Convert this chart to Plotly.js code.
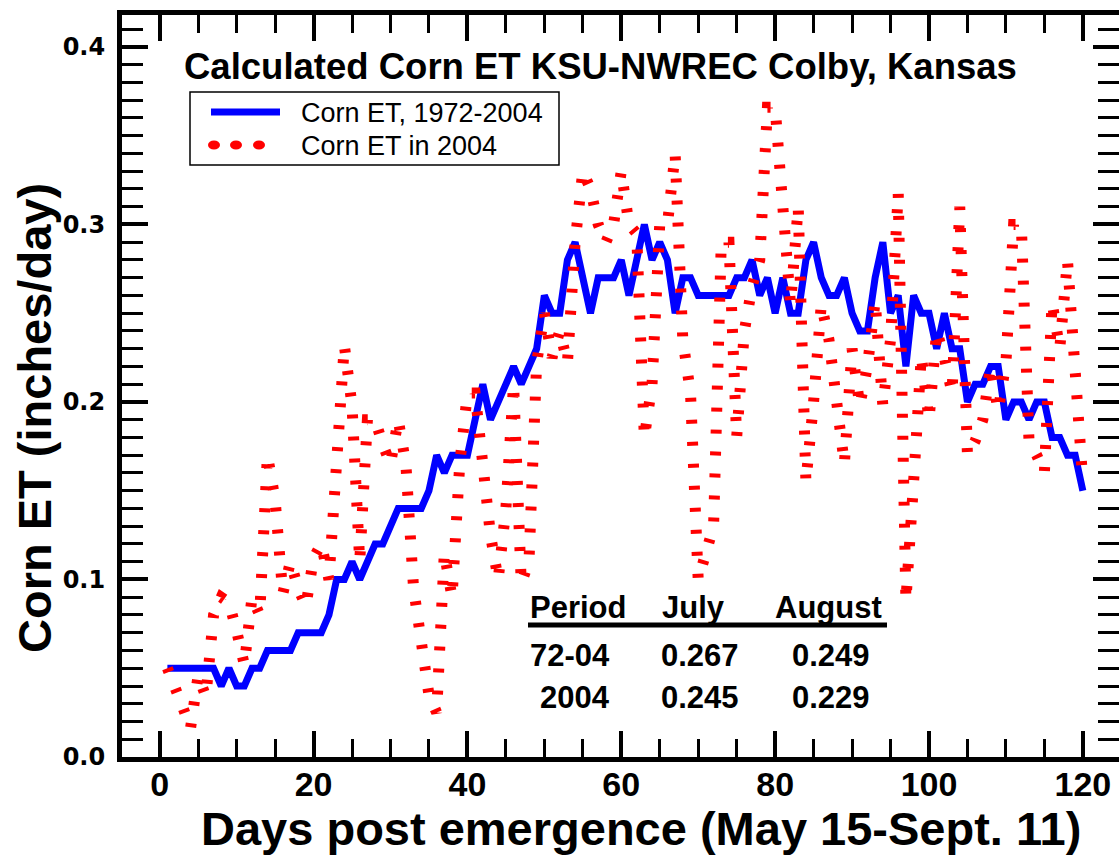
<!DOCTYPE html>
<html>
<head>
<meta charset="utf-8">
<script src="https://cdn.plot.ly/plotly-3.0.1.min.js"></script>
<style>
  html, body { margin: 0; padding: 0; background: #ffffff; }
  #chart { width: 1119px; height: 857px; }
</style>
</head>
<body>
<div id="chart"></div>
<script>
// ---- data ----
const days = Array.from({length: 120}, (_, i) => i + 1);

const etLongTerm = [
  0.05, 0.05, 0.05, 0.05, 0.05, 0.05, 0.05, 0.04, 0.05, 0.04,
  0.04, 0.05, 0.05, 0.06, 0.06, 0.06, 0.06, 0.07, 0.07, 0.07,
  0.07, 0.08, 0.10, 0.10, 0.11, 0.10, 0.11, 0.12, 0.12, 0.13,
  0.14, 0.14, 0.14, 0.14, 0.15, 0.17, 0.16, 0.17, 0.17, 0.17,
  0.19, 0.21, 0.19, 0.20, 0.21, 0.22, 0.21, 0.22, 0.23, 0.26,
  0.25, 0.25, 0.28, 0.29, 0.27, 0.25, 0.27, 0.27, 0.27, 0.28,
  0.26, 0.28, 0.30, 0.28, 0.29, 0.28, 0.25, 0.27, 0.27, 0.26,
  0.26, 0.26, 0.26, 0.26, 0.27, 0.27, 0.28, 0.26, 0.27, 0.25,
  0.27, 0.25, 0.25, 0.28, 0.29, 0.27, 0.26, 0.26, 0.27, 0.25,
  0.24, 0.24, 0.27, 0.29, 0.25, 0.26, 0.22, 0.26, 0.25, 0.25,
  0.23, 0.25, 0.23, 0.23, 0.20, 0.21, 0.21, 0.22, 0.22, 0.19,
  0.20, 0.20, 0.19, 0.20, 0.20, 0.18, 0.18, 0.17, 0.17, 0.15
];

const et2004 = [
  0.050, 0.040, 0.028, 0.016, 0.046, 0.034, 0.080, 0.090, 0.087, 0.071,
  0.052, 0.090, 0.080, 0.170, 0.145, 0.092, 0.110, 0.095, 0.085, 0.112,
  0.120, 0.100, 0.168, 0.232, 0.198, 0.110, 0.190, 0.190, 0.176, 0.165,
  0.190, 0.165, 0.095, 0.060, 0.035, 0.025, 0.115, 0.090, 0.165, 0.205,
  0.205, 0.165, 0.125, 0.100, 0.140, 0.210, 0.098, 0.110, 0.222, 0.250,
  0.225, 0.240, 0.222, 0.290, 0.330, 0.320, 0.300, 0.290, 0.300, 0.330,
  0.300, 0.295, 0.180, 0.210, 0.300, 0.300, 0.340, 0.235, 0.205, 0.100,
  0.115, 0.130, 0.290, 0.290, 0.180, 0.240, 0.265, 0.280, 0.366, 0.366,
  0.310, 0.255, 0.310, 0.155, 0.200, 0.255, 0.235, 0.200, 0.165, 0.230,
  0.198, 0.220, 0.257, 0.198, 0.235, 0.318, 0.088, 0.155, 0.226, 0.190,
  0.240, 0.225, 0.205, 0.310, 0.170, 0.178, 0.190, 0.220, 0.195, 0.222,
  0.300, 0.300, 0.178, 0.170, 0.160, 0.256, 0.230, 0.280, 0.218, 0.155
];

const seriesNames = ["Corn ET, 1972-2004", "Corn ET in 2004"];
const chartTitle = "Calculated Corn ET KSU-NWREC Colby, Kansas";
const xTitle = "Days post emergence (May 15-Sept. 11)";
const yTitle = "Corn ET (inches/day)";
const tableHeader = ["Period", "July", "August"];
const tableRows = [
  ["72-04", "0.267", "0.249"],
  ["2004", "0.245", "0.229"]
];

// ---- layout helpers (pixel -> paper) ----
const W = 1119, H = 857;
const M = {l: 122, r: 0, t: 15, b: 100};
const PW = W - M.l - M.r, PH = H - M.t - M.b;
const px = x => (x - M.l) / PW;
const py = y => (H - M.b - y) / PH;

const BOLD = '"Liberation Sans", Arial, Helvetica, sans-serif';
const NARROW = '"Liberation Sans Narrow", "Liberation Sans", Arial, sans-serif';

const traces = [
  {
    x: days, y: etLongTerm, type: 'scatter', mode: 'lines',
    name: seriesNames[0], showlegend: false,
    line: {color: '#0000ff', width: 7}
  },
  {
    x: days, y: et2004, type: 'scatter', mode: 'lines',
    name: seriesNames[1], showlegend: false,
    line: {color: '#ff0000', width: 11, dash: '4px,18px'}
  }
];

const annotations = [
  {xref: 'paper', yref: 'paper', x: px(600), y: py(66), text: '<b>' + chartTitle + '</b>',
   showarrow: false, xanchor: 'center', yanchor: 'middle',
   font: {family: BOLD, size: 36.5, color: '#000'}},
  {xref: 'paper', yref: 'paper', x: px(299), y: py(113), text: seriesNames[0],
   showarrow: false, xanchor: 'left', yanchor: 'middle',
   font: {family: BOLD, size: 27, color: '#000'}},
  {xref: 'paper', yref: 'paper', x: px(299), y: py(146), text: seriesNames[1],
   showarrow: false, xanchor: 'left', yanchor: 'middle',
   font: {family: BOLD, size: 27, color: '#000'}},
  // axis titles
  {xref: 'paper', yref: 'paper', x: px(641), y: py(829), text: '<b>' + xTitle + '</b>',
   showarrow: false, xanchor: 'center', yanchor: 'middle',
   font: {family: BOLD, size: 47, color: '#000'}},
  {xref: 'paper', yref: 'paper', x: px(34), y: py(418), text: '<b>' + yTitle + '</b>',
   showarrow: false, xanchor: 'center', yanchor: 'middle', textangle: -90,
   font: {family: BOLD, size: 47, color: '#000'}}
];

// table text
const headX = [528, 660, 773];
const rowX = [[528, 'left'], [700, 'center'], [831, 'center']];
const headY = 607, rowY = [655, 697];
tableHeader.forEach((t, i) => {
  annotations.push({xref: 'paper', yref: 'paper', x: px(headX[i]), y: py(headY),
    text: '<b>' + t + '</b>', showarrow: false, xanchor: 'left', yanchor: 'middle',
    font: {family: BOLD, size: 31, color: '#000'}});
});
tableRows.forEach((row, r) => {
  row.forEach((t, i) => {
    annotations.push({xref: 'paper', yref: 'paper',
      x: px(i === 0 && r === 1 ? 538 : rowX[i][0]), y: py(rowY[r]),
      text: '<b>' + t + '</b>', showarrow: false,
      xanchor: rowX[i][1], yanchor: 'middle',
      font: {family: BOLD, size: 31, color: '#000'}});
  });
});

const shapes = [
  // legend box
  {type: 'rect', xref: 'paper', yref: 'paper', x0: px(190), x1: px(559), y0: py(92), y1: py(165),
   line: {color: '#000', width: 1.5}, fillcolor: 'rgba(0,0,0,0)'},
  // legend blue sample
  {type: 'line', xref: 'paper', yref: 'paper', x0: px(211), x1: px(280), y0: py(112), y1: py(112),
   line: {color: '#0000ff', width: 7}},
  // table underline
  {type: 'line', xref: 'paper', yref: 'paper', x0: px(528), x1: px(887), y0: py(625), y1: py(625),
   line: {color: '#000', width: 5}}
];
[214, 236, 259].forEach(cx => {
  shapes.push({type: 'circle', xref: 'paper', yref: 'paper',
    x0: px(cx - 6), x1: px(cx + 6), y0: py(145 + 4.5), y1: py(145 - 4.5),
    line: {width: 0}, fillcolor: '#ff0000'});
});

const layout = {
  width: W, height: H,
  margin: M,
  paper_bgcolor: '#ffffff', plot_bgcolor: '#ffffff',
  showlegend: false,
  xaxis: {
    range: [-4.9, 124.7], tick0: 0, dtick: 20,
    ticks: 'inside', ticklen: 26, tickwidth: 4, tickcolor: '#000',
    minor: {dtick: 5, ticks: 'inside', ticklen: 18, tickwidth: 3, tickcolor: '#000'},
    showline: true, linewidth: 5, linecolor: '#000', mirror: 'ticks',
    showgrid: false, zeroline: false,
    tickfont: {family: NARROW, size: 34, color: '#000', weight: 'bold'},
    ticklabelstandoff: -7
  },
  yaxis: {
    range: [0, 0.418], tick0: 0, dtick: 0.1, tickformat: '.1f',
    ticks: 'inside', ticklen: 26, tickwidth: 4, tickcolor: '#000',
    minor: {dtick: 0.01, ticks: 'inside', ticklen: 21, tickwidth: 3, tickcolor: '#000'},
    showline: true, linewidth: 5, linecolor: '#000', mirror: 'ticks',
    showgrid: false, zeroline: false,
    tickfont: {family: '"DejaVu Sans", sans-serif', size: 24, color: '#000', weight: 'bold'},
    ticklabelstandoff: 7
  },
  annotations: annotations,
  shapes: shapes
};

Plotly.newPlot('chart', traces, layout, {staticPlot: true, displayModeBar: false});
</script>
</body>
</html>
